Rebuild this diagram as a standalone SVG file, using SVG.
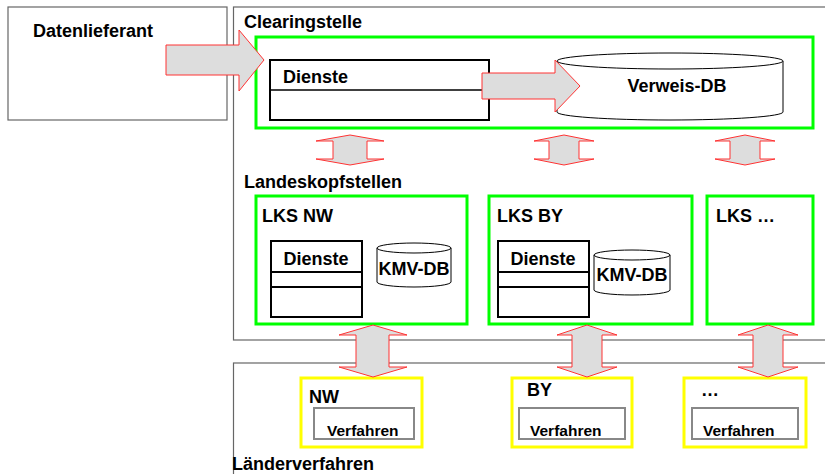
<svg xmlns="http://www.w3.org/2000/svg" width="825" height="474" viewBox="0 0 825 474">
<style>
.t{font-family:"Liberation Sans",Arial,sans-serif;font-weight:bold;font-size:18px;fill:#000}
.v{font-family:"Liberation Sans",Arial,sans-serif;font-weight:bold;font-size:15.5px;fill:#000}
.outer{fill:#fff;stroke:#666;stroke-width:1.2}
.green{fill:none;stroke:#00ff00;stroke-width:3}
.yellow{fill:none;stroke:#ffff00;stroke-width:3}
.box{fill:#fff;stroke:#000;stroke-width:2}
.gray{fill:#fff;stroke:#888;stroke-width:2}
.cyl{fill:#fff;stroke:#000;stroke-width:1}
.arr{fill:#dddddd;stroke:#ff3333;stroke-width:1}
</style>
<rect width="825" height="474" fill="#fff"/>
<g id="datenlieferant">
<rect class="outer" x="8" y="7" width="219" height="113"/>
<text class="t" x="33" y="37">Datenlieferant</text>
</g>
<g id="clearingstelle">
<rect class="outer" x="233.5" y="7" width="600" height="333"/>
<text class="t" x="244" y="28">Clearingstelle</text>
<rect class="green" x="256" y="37" width="557" height="91"/>
<g id="dienste-cs">
<rect class="box" x="270" y="60" width="219" height="60"/>
<line x1="270" y1="90" x2="489" y2="90" stroke="#000" stroke-width="1.5"/>
<text class="t" x="283" y="83">Dienste</text>
</g>
<g id="verweis-db">
<path class="cyl" d="M557,61 L557,112 A113,8 0 0 0 783,112 L783,61"/>
<ellipse class="cyl" cx="670" cy="61" rx="113" ry="8"/>
<text class="t" x="677" y="92" text-anchor="middle">Verweis-DB</text>
</g>
</g>
<text class="t" x="244" y="188">Landeskopfstellen</text>
<g id="lks-nw">
<rect class="green" x="256" y="196" width="211" height="128"/>
<text class="t" x="262" y="222">LKS NW</text>
<rect class="box" x="271" y="241" width="91" height="76"/>
<line x1="271" y1="272" x2="362" y2="272" stroke="#000" stroke-width="2"/>
<line x1="271" y1="287" x2="362" y2="287" stroke="#000" stroke-width="2"/>
<text class="t" x="316" y="265" text-anchor="middle">Dienste</text>
<path class="cyl" d="M377,248 L377,282 A37,5 0 0 0 451,282 L451,248"/>
<ellipse class="cyl" cx="414" cy="248" rx="37" ry="5"/>
<text class="t" x="414" y="275" text-anchor="middle">KMV-DB</text>
</g>
<g id="lks-by">
<rect class="green" x="489" y="196" width="203" height="128"/>
<text class="t" x="497" y="222">LKS BY</text>
<rect class="box" x="498" y="241" width="91" height="76"/>
<line x1="498" y1="272" x2="589" y2="272" stroke="#000" stroke-width="2"/>
<line x1="498" y1="287" x2="589" y2="287" stroke="#000" stroke-width="2"/>
<text class="t" x="543" y="265" text-anchor="middle">Dienste</text>
<path class="cyl" d="M594,255 L594,290 A38,5 0 0 0 670,290 L670,255"/>
<ellipse class="cyl" cx="632" cy="255" rx="38" ry="5"/>
<text class="t" x="632" y="281" text-anchor="middle">KMV-DB</text>
</g>
<g id="lks-etc">
<rect class="green" x="707" y="196" width="106" height="128"/>
<text class="t" x="716" y="222">LKS …</text>
</g>
<g id="laenderverfahren">
<rect class="outer" x="233.5" y="363" width="600" height="130"/>
<text class="t" x="232" y="470">Länderverfahren</text>
</g>
<g id="nw">
<rect class="yellow" x="301" y="378" width="121" height="69"/>
<text class="t" x="309" y="403">NW</text>
<rect class="gray" x="314" y="408" width="100" height="31"/>
<text class="v" x="327" y="436">Verfahren</text>
</g>
<g id="by">
<rect class="yellow" x="512" y="378" width="120" height="69"/>
<text class="t" x="527" y="396">BY</text>
<rect class="gray" x="519" y="408" width="106" height="31"/>
<text class="v" x="530" y="436">Verfahren</text>
</g>
<g id="etc">
<rect class="yellow" x="684" y="378" width="122" height="69"/>
<text class="t" x="701" y="396">…</text>
<rect class="gray" x="692" y="408" width="106" height="31"/>
<text class="v" x="703" y="436">Verfahren</text>
</g>
<g id="connectors">
<polygon class="arr" points="166,45 239,45 239,30 264,60 239,91 239,75 166,75"/>
<polygon class="arr" points="482,73 555,73 555,60 580,86 555,112 555,99 482,99"/>
<polygon class="arr" points="350,135 384,141 367,141 367,159 384,159 350,165 316,159 333,159 333,141 316,141"/>
<polygon class="arr" points="564,135 594,141 579,141 579,159 594,159 564,165 534,159 549,159 549,141 534,141"/>
<polygon class="arr" points="745,135 775,141 760,141 760,159 775,159 745,165 715,159 730,159 730,141 715,141"/>
<polygon class="arr" points="373,325 407,335 389,335 389,367 407,367 373,377 339,367 356,367 356,335 339,335"/>
<polygon class="arr" points="587,325 617,335 602,335 602,367 617,367 587,377 557,367 572,367 572,335 557,335"/>
<polygon class="arr" points="768,325 798,335 783,335 783,367 798,367 768,377 738,367 753,367 753,335 738,335"/>
</g>
</svg>
